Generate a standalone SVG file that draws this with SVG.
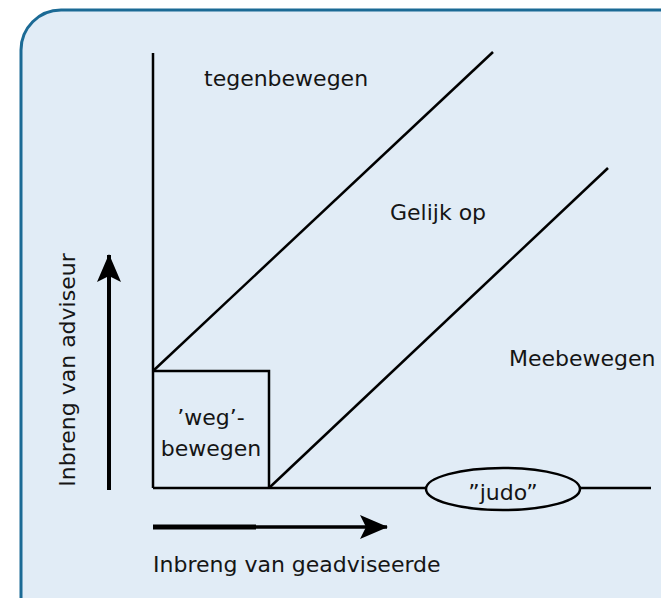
<svg xmlns="http://www.w3.org/2000/svg" width="661" height="598" viewBox="0 0 661 598">
  <style>
    .ln { stroke: #000; stroke-width: 2.5; fill: none; }
    .lbl { font-family: "DejaVu Sans", Verdana, sans-serif; font-size: 22px; fill: #151515; }
  </style>
  <defs>
    <marker id="head" viewBox="0 0 28 24" refX="27" refY="12" markerWidth="28" markerHeight="24" markerUnits="userSpaceOnUse" orient="auto">
      <path d="M0,0 L28,12 L0,24 L6,12 Z" fill="#000"/>
    </marker>
  </defs>

  <!-- background panel -->
  <rect x="0" y="0" width="661" height="598" fill="#ffffff"/>
  <rect id="panel" x="21" y="10" width="700" height="650" rx="40" ry="40" fill="#e1ecf6" stroke="#1b6a95" stroke-width="3"/>

  <g id="connectors">
    <!-- axes -->
    <line class="ln" x1="153" y1="53" x2="153" y2="488"/>
    <line class="ln" x1="153" y1="488" x2="426" y2="488"/>
    <line class="ln" x1="579" y1="488" x2="651" y2="488"/>
    <!-- diagonals -->
    <line class="ln" x1="153" y1="371" x2="493" y2="52"/>
    <line class="ln" x1="269" y1="488" x2="608" y2="168"/>
    <!-- direction arrows -->
    <line x1="109" y1="490" x2="109" y2="255" stroke="#000" stroke-width="4" marker-end="url(#head)"/>
    <line x1="153" y1="527" x2="256" y2="527" stroke="#000" stroke-width="5"/>
    <line x1="255" y1="527" x2="387" y2="527" stroke="#000" stroke-width="3.5" marker-end="url(#head)"/>
  </g>

  <g id="weg">
    <polyline class="ln" points="153,371 269,371 269,488"/>
    <text class="lbl" x="211" y="425" text-anchor="middle">’weg’-</text>
    <text class="lbl" x="211" y="456" text-anchor="middle">bewegen</text>
  </g>

  <g id="judo">
    <ellipse class="ln" cx="503" cy="489" rx="77" ry="21"/>
    <text class="lbl" x="503" y="500" text-anchor="middle">”judo”</text>
  </g>

  <g id="tegenbewegen">
    <text class="lbl" x="204" y="86">tegenbewegen</text>
  </g>
  <g id="gelijk-op">
    <text class="lbl" x="390" y="220">Gelijk op</text>
  </g>
  <g id="meebewegen">
    <text class="lbl" x="509" y="366">Meebewegen</text>
  </g>
  <g id="as-adviseur">
    <text class="lbl" x="0" y="0" transform="translate(75,370) rotate(-90)" text-anchor="middle">Inbreng van adviseur</text>
  </g>
  <g id="as-geadviseerde">
    <text class="lbl" x="153" y="572">Inbreng van geadviseerde</text>
  </g>
</svg>
